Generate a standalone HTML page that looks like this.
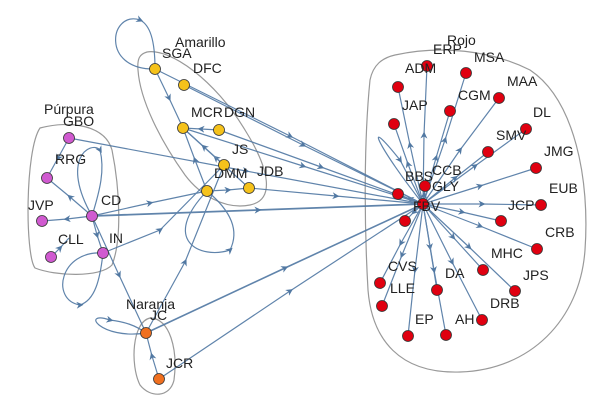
<!DOCTYPE html>
<html><head><meta charset="utf-8"><style>
html,body{margin:0;padding:0;background:#fff;}
svg{display:block;font-family:"Liberation Sans",Arial,sans-serif;}
text{font-size:14px;fill:#222;}
</style></head><body>
<svg width="600" height="408" viewBox="0 0 600 408" xmlns="http://www.w3.org/2000/svg">
<defs>
<marker id="a" viewBox="0 0 10 10" refX="5" refY="5" markerWidth="10" markerHeight="7" orient="auto" markerUnits="userSpaceOnUse">
<path d="M0,0 L10,5 L0,10 L3,5 z" fill="#3f6a98"/></marker>
</defs>
<g fill="none" stroke="#999" stroke-width="1.2">
<path d="M395,55 C440,45 490,50 530,70 C575,100 590,180 585,250 C580,320 530,370 460,372 C400,374 372,340 368,290 C364,220 364,140 370,80 C373,65 382,58 395,55 Z"/>
<path d="M147,52 C170,48 215,80 245,130 C270,170 275,200 250,205 C225,210 200,195 185,175 C160,140 140,100 138,70 C137,58 140,54 147,52 Z"/>
<path d="M40,128 C70,120 105,125 112,150 C120,190 122,240 112,265 C100,278 55,276 35,268 C25,255 25,150 40,128 Z"/>
<path d="M150,318 C170,318 178,350 174,380 C170,398 150,398 140,385 C130,365 132,322 150,318 Z"/>
</g>
<g fill="none" stroke="#4f77a3" stroke-width="1.2" marker-mid="url(#a)" opacity="0.9">
<path d="M423,204 L424,135 L427,66"/>
<path d="M423,204 L445,140 L466,73"/>
<path d="M423,204 L410,145 L398,87"/>
<path d="M423,204 L460,150 L499,98"/>
<path d="M423,204 L436,158 L450,111"/>
<path d="M423,204 L408,164 L394,124"/>
<path d="M423,204 L475,166 L526,129"/>
<path d="M423,204 L455,178 L488,152"/>
<path d="M423,204 L480,186 L536,168"/>
<path d="M423,204 L482,204 L541,205"/>
<path d="M423,204 L462,212 L501,221"/>
<path d="M423,204 L480,226 L537,249"/>
<path d="M423,204 L453,237 L483,270"/>
<path d="M423,204 L401,243 L380,283"/>
<path d="M423,204 L430,247 L437,290"/>
<path d="M423,204 L469,247 L515,291"/>
<path d="M423,204 L402,255 L382,306"/>
<path d="M423,204 L452,262 L482,320"/>
<path d="M423,204 L415,270 L408,336"/>
<path d="M423,204 L434,270 L446,335"/>
<path d="M423,204 L414,212 L405,221"/>
<path d="M423,204 L410,199 L398,194"/>
<path d="M423,204 L424,195 L425,186"/>
<path d="M423,204 C380,150 360,110 400,160 L423,204"/>
<path d="M155,69 L290,136 L423,204"/>
<path d="M184,85 L303,145 L423,204"/>
<path d="M183,128 L303,166 L423,204"/>
<path d="M219,130 L321,167 L423,204"/>
<path d="M249,188 L336,196 L423,204"/>
<path d="M92,216 L258,210 L423,204" stroke-width="1.8"/>
<path d="M69,138 L246,171 L423,204"/>
<path d="M146,333 L285,268 L423,204" stroke-width="1.6"/>
<path d="M159,379 L290,291 L423,204"/>
<path d="M155,69 L169,98 L183,128"/>
<path d="M219,130 L201,129 L183,128"/>
<path d="M207,191 L228,190 L249,188"/>
<path d="M249,188 L216,158 L183,128"/>
<path d="M224,165 L204,147 L183,128"/>
<path d="M207,191 L195,160 L183,128"/>
<path d="M92,216 L150,203 L207,191"/>
<path d="M92,216 L67,219 L42,221"/>
<path d="M92,216 L70,197 L47,178"/>
<path d="M92,216 L97,235 L103,253"/>
<path d="M51,257 L60,248 L69,238"/>
<path d="M103,253 L160,230 L224,165"/>
<path d="M69,138 L58,158 L47,178"/>
<path d="M146,333 L185,262 L224,165"/>
<path d="M159,379 L152,356 L146,333"/>
<path d="M92,216 L119,275 L146,333"/>
<path d="M155,69 C100,70 110,10 140,20 C150,25 155,40 155,69"/>
<path d="M146,333 C100,340 80,310 110,320 C125,322 135,325 146,333"/>
<path d="M103,253 C60,250 50,300 80,305 C95,300 100,280 103,253"/>
<path d="M207,191 C160,240 200,260 230,250 C240,230 230,210 207,191"/>
<path d="M92,216 C60,160 90,140 100,150 C105,170 100,190 92,216"/>
</g>
<g stroke="#333" stroke-width="0.8">
<g fill="#f5c21b">
<circle cx="155" cy="69" r="5.5"/><circle cx="184" cy="85" r="5.5"/><circle cx="183" cy="128" r="5.5"/><circle cx="219" cy="130" r="5.5"/><circle cx="224" cy="165" r="5.5"/><circle cx="207" cy="191" r="5.5"/><circle cx="249" cy="188" r="5.5"/>
</g>
<g fill="#d05ad0">
<circle cx="69" cy="138" r="5.5"/><circle cx="47" cy="178" r="5.5"/><circle cx="42" cy="221" r="5.5"/><circle cx="92" cy="216" r="5.5"/><circle cx="51" cy="257" r="5.5"/><circle cx="103" cy="253" r="5.5"/>
</g>
<g fill="#f07020">
<circle cx="146" cy="333" r="5.5"/><circle cx="159" cy="379" r="5.5"/>
</g>
<g fill="#e00010">
<circle cx="427" cy="66" r="5.5"/><circle cx="466" cy="73" r="5.5"/><circle cx="398" cy="87" r="5.5"/><circle cx="499" cy="98" r="5.5"/><circle cx="450" cy="111" r="5.5"/><circle cx="394" cy="124" r="5.5"/><circle cx="526" cy="129" r="5.5"/><circle cx="488" cy="152" r="5.5"/><circle cx="536" cy="168" r="5.5"/><circle cx="425" cy="186" r="5.5"/><circle cx="398" cy="194" r="5.5"/><circle cx="423" cy="204" r="5.5"/><circle cx="541" cy="205" r="5.5"/><circle cx="501" cy="221" r="5.5"/><circle cx="405" cy="221" r="5.5"/><circle cx="537" cy="249" r="5.5"/><circle cx="483" cy="270" r="5.5"/><circle cx="380" cy="283" r="5.5"/><circle cx="437" cy="290" r="5.5"/><circle cx="515" cy="291" r="5.5"/><circle cx="382" cy="306" r="5.5"/><circle cx="482" cy="320" r="5.5"/><circle cx="408" cy="336" r="5.5"/><circle cx="446" cy="335" r="5.5"/>
</g>
</g>
<g>
<text x="175" y="47">Amarillo</text>
<text x="162" y="58">SGA</text>
<text x="193" y="73">DFC</text>
<text x="191" y="117">MCR</text>
<text x="224" y="117">DGN</text>
<text x="232" y="154">JS</text>
<text x="214" y="178">DMM</text>
<text x="257" y="176">JDB</text>
<text x="44" y="114">Púrpura</text>
<text x="63" y="126">GBO</text>
<text x="55" y="164">RRG</text>
<text x="28" y="210">JVP</text>
<text x="101" y="205">CD</text>
<text x="58" y="244">CLL</text>
<text x="109" y="243">IN</text>
<text x="126" y="309">Naranja</text>
<text x="150" y="320">JC</text>
<text x="166" y="368">JCR</text>
<text x="447" y="45">Rojo</text>
<text x="433" y="54">ERP</text>
<text x="474" y="62">MSA</text>
<text x="405" y="73">ADM</text>
<text x="507" y="86">MAA</text>
<text x="458" y="100">CGM</text>
<text x="402" y="110">JAP</text>
<text x="533" y="117">DL</text>
<text x="496" y="140">SMV</text>
<text x="544" y="156">JMG</text>
<text x="432" y="175">CCB</text>
<text x="405" y="181">BBS</text>
<text x="432" y="191">GLY</text>
<text x="413" y="211">FBV</text>
<text x="549" y="193">EUB</text>
<text x="508" y="210">JCP</text>
<text x="545" y="237">CRB</text>
<text x="491" y="258">MHC</text>
<text x="388" y="271">CVS</text>
<text x="445" y="278">DA</text>
<text x="523" y="280">JPS</text>
<text x="390" y="293">LLE</text>
<text x="490" y="308">DRB</text>
<text x="455" y="324">AH</text>
<text x="415" y="324">EP</text>
</g>
</svg>
</body></html>
